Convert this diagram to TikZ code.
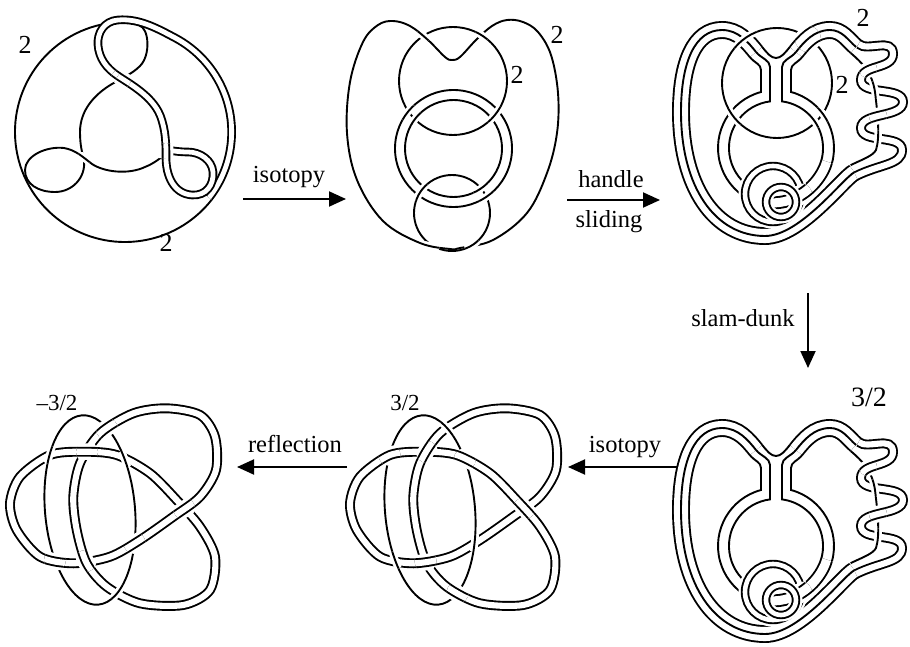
\documentclass[tikz,border=0pt]{standalone}
\usepackage{fontspec}
\setmainfont{Liberation Serif}
\usetikzlibrary{arrows.meta}
\tikzset{
 sl/.style={line width=1.9pt},
 slh/.style={draw=white, line width=7.5pt},
 dbl/.style={double=white, double distance=4.8pt, line width=1.9pt},
 dblh/.style={draw=white, line width=15pt},
 tband/.style={double=white, double distance=6.1pt, line width=1.9pt},
 tbandh/.style={draw=white, line width=16.5pt},
 wband/.style={double=white, double distance=6.1pt, line width=1.9pt},
 wbandh/.style={draw=white, line width=16.5pt},
 tailst/.style={double=white, double distance=9.1pt, line width=1.9pt},
 tailh/.style={draw=white, line width=19.5pt},
 sband/.style={double=white, double distance=4.6pt, line width=1.9pt},
 sbandh/.style={draw=white, line width=13pt},
 triple/.style={line width=17.9pt, postaction={draw=white, line width=14.1pt}, postaction={draw=black, line width=1.9pt}},
 tripleh/.style={draw=white, line width=24.5pt},
 lbl/.style={font=\fontsize{24.5}{29}\selectfont, inner sep=0pt},
 num/.style={font=\fontsize{26}{30}\selectfont, inner sep=0pt},
 numS/.style={font=\fontsize{23}{27}\selectfont, inner sep=0pt},
 numL/.style={font=\fontsize{28}{32}\selectfont, inner sep=0pt},
 arr/.style={line width=1.9pt, -{Triangle[length=17pt,width=15pt]}},
 rotE/.style={rotate around={5:(430,510)}},
 % diagram 1
 Dcirc/.style={insert path={(125,132) ++(258:110) arc[start angle=258,end angle=38,radius=110]}},
 DbA/.style={insert path={(125,132) ++(38:106.65) arc[start angle=38,end angle=-62,radius=106.65] .. controls (160,30) and (140,18) .. (118,20) .. controls (104,21) and (97,33) .. (98,45) .. controls (99,58) and (106,68) .. (118,76)}},
 DbB/.style={insert path={(118,76) .. controls (130,84) and (152,96) .. (160,115) .. controls (166,130) and (166,145) .. (166,158)}},
 DbC/.style={insert path={(166,158) .. controls (166,176) and (174,194) .. (192,195) .. controls (206,196) and (214,185) .. (213,172) .. controls (212,160) and (200,152) .. (188,152) .. controls (180,152) and (174,151) .. (166,150)}},
 DsA/.style={insert path={(139.3,25.5) .. controls (149,28) and (151,55) .. (140,66) .. controls (132,74) and (122,78) .. (112,84) .. controls (95,94) and (80,110) .. (80,132) .. controls (80,145) and (82,152) .. (84,160)}},
 DsB/.style={insert path={(84,160) .. controls (86,178) and (72,192) .. (55,192) .. controls (38,192) and (25,184) .. (25,170) .. controls (25,156) and (46,146) .. (64,148)}},
 DsC/.style={insert path={(64,148) .. controls (76,150) and (84,158) .. (92,164) .. controls (104,172) and (128,175) .. (145,167) .. controls (155,163) and (160,158) .. (166,154)}},
 % diagram 2
 Eheart/.style={insert path={plot[smooth cycle, tension=0.6] coordinates {(450,249) (420,243) (383,221) (357,180) (347,133) (350,82) (363,42) (378,25) (393,21) (410,26) (428,40) (445,57) (452,60) (460,57) (476,40) (492,26) (507,20) (523,22) (538,32) (551,55) (558,93) (557,133) (547,173) (527,213) (493,240) (460,248)}}},
 Eup/.style={insert path={(453,81) circle (54)}},
 Ero/.style={insert path={(453.5,148.5) circle (58.5)}},
 Eri/.style={insert path={(453.5,148.5) circle (48.5)}},
 Elo/.style={insert path={(452,213) circle (38)}},
 % diagrams 3 and 5
 HtL/.style={insert path={(854.2,570.4) .. controls (843.5,575.8) and (800,634) .. (765,634) .. controls (715,634) and (681,585) .. (681,510) .. controls (681,460) and (695,428) .. (722,428) .. controls (738,428) and (748,440) .. (756,450)}},
 HtR/.style={insert path={(796,450) .. controls (804,440) and (814,428) .. (830,428) .. controls (842,428) and (848,438) .. (856,445)}},
 Hw/.style={insert path={(858.65,442) .. controls (867.7,449.9) and (893,435) .. (893,452) .. controls (893,468) and (861,462) .. (861,478) .. controls (861,494) and (903,484) .. (903,500) .. controls (903,516) and (861,510) .. (861,526) .. controls (861,542) and (902,532) .. (902,548) .. controls (902,563) and (880,562) .. (856,574)}},
 Hthin/.style={insert path={(850.7,451) .. controls (862,460.9) and (872,470) .. (875,490) .. controls (878,515) and (880,535) .. (876,548) .. controls (873,554) and (861.3,557.8) .. (850.6,563.2)}},
 HV/.style={insert path={(762.2,445) .. controls (767.2,451.2) and (771,456) .. (776,456) .. controls (781,456) and (784.8,451.2) .. (789.8,445)}},
 HstL/.style={insert path={(756,450) .. controls (761,456.3) and (770,458) .. (770,465) -- (770,499.4) arc[start angle=262.7,end angle=125,radius=47]}},
 HstR/.style={insert path={(796,450) .. controls (791,456.3) and (782,458) .. (782,465) -- (782,499.4) arc[start angle=277.3,end angle=375,radius=47]}},
 HbrL/.style={insert path={(749.75,455) .. controls (754.75,461.25) and (761,462) .. (761,468) -- (761,490) arc[start angle=255,end angle=120,radius=58]}},
 HbrR/.style={insert path={(802.25,455) .. controls (797.25,461.25) and (791,462) .. (791,468) -- (791,490) arc[start angle=285,end angle=375,radius=58]}},
 Htail/.style={insert path={(826.7,559.6) .. controls (823.6,571.2) and (812,590) .. (790,598) .. controls (783,600.5) and (776,601) .. (770,601)}},
 HA/.style={insert path={(773,592) circle (28)}},
 HB/.style={insert path={(781,600) circle (15)}},
 Hcirc/.style={insert path={(777,481) circle (55)}},
}
\newcommand\xo[3]{\begin{scope}\clip (#1) circle (#2);#3\end{scope}}
\newcommand\HeartStruct{%
 \draw[triple,HtL]; \draw[triple,HtR];
 \draw[wband,Hw];
 \draw[sl,Hthin];
 \draw[sl,HV]; \draw[sl,HstL]; \draw[sl,HstR]; \draw[sl,HbrL]; \draw[sl,HbrR];
 \draw[tailst,Htail];
 \draw[sbandh,HA]; \draw[sband,HA];
 \xo{801,592.5}{11}{\draw[tailh,Htail];\draw[tailst,Htail];}
 \draw[sbandh,HB]; \draw[sband,HB];
 \xo{868,467}{9}{\draw[wbandh,Hw];\draw[wband,Hw];}
 \xo{875,488}{9}{\draw[slh,Hthin];\draw[sl,Hthin];}
 \xo{878,514}{9}{\draw[wbandh,Hw];\draw[wband,Hw];}
 \xo{880.5,537}{9}{\draw[slh,Hthin];\draw[sl,Hthin];}
}
\newcommand\DefT{\foreach \p [count=\i from 0] in {{423.3,451.7},{456.7,455},{490,473.3},{516.7,500},{540,526.7},{555,556.7},{550,590},{523.3,605},{480,603.3},{446.7,586.7},{426.7,563.3},{416.7,530},{413.3,496.7},{420,463.3},{440,433.3},{473.3,413.3},{506.7,408.3},{540,415},{555,436.7},{556,470},{540,496.7},{513.3,516.7},{480,540},{450,556.7},{413.3,563.3},{380,556.7},{356.7,530},{350,503.3},{360,476.7},{390,455}} {\coordinate (T\i) at (\p);}}
\newcommand\TrefBase{%
 \draw[sl,rotE] (430,510) ellipse [x radius=45, y radius=95];
 \draw[tband] plot[smooth cycle] coordinates {(T0) (T1) (T2) (T3) (T4) (T5) (T6) (T7) (T8) (T9) (T10) (T11) (T12) (T13) (T14) (T15) (T16) (T17) (T18) (T19) (T20) (T21) (T22) (T23) (T24) (T25) (T26) (T27) (T28) (T29)};
}
\newcommand\Tsub[2]{\begin{scope}\clip (#1) circle (11); \draw[tbandh] plot[smooth] coordinates {#2}; \draw[tband] plot[smooth] coordinates {#2};\end{scope}}
\newcommand\Eov[1]{\begin{scope}\clip (#1) circle (9); \draw[slh,rotE] (430,510) ellipse [x radius=45, y radius=95]; \draw[sl,rotE] (430,510) ellipse [x radius=45, y radius=95];\end{scope}}
\begin{document}
\begin{tikzpicture}[x=1pt,y=-1pt]
\useasboundingbox (0,0) rectangle (910,647);
\fill[white] (0,0) rectangle (910,647);

% ---------- diagram 1 ----------
\draw[sl,Dcirc];
\draw[sl,DsA]; \draw[sl,DsB]; \draw[sl,DsC];
\draw[dbl,DbA]; \draw[dbl,DbB]; \draw[dbl,DbC];
\xo{121,79}{10}{\draw[dblh,DbA];\draw[dblh,DbB];\draw[dbl,DbA];\draw[dbl,DbB];}
\xo{166,152}{9}{\draw[dblh,DbB];\draw[dbl,DbB];}
\xo{84,158.5}{7}{\draw[slh,DsC];\draw[sl,DsC];}
\node[num] (l1a) at (25,45) {2};
\node[num] (l1b) at (166,243) {2};

% ---------- diagram 2 ----------
\draw[sl,Eheart]; \draw[sl,Eup]; \draw[sl,Ero]; \draw[sl,Eri]; \draw[sl,Elo];
\xo{423,36}{7}{\draw[slh,Eheart];\draw[sl,Eheart];}
\xo{482,35}{7}{\draw[slh,Eup];\draw[sl,Eup];}
\xo{411.2,115}{10}{\draw[slh,Ero];\draw[slh,Eri];\draw[sl,Ero];\draw[sl,Eri];}
\xo{494.8,115}{10}{\draw[slh,Eup];\draw[sl,Eup];}
\xo{420.8,192}{10}{\draw[slh,Elo];\draw[sl,Elo];}
\xo{483.2,192}{10}{\draw[slh,Ero];\draw[slh,Eri];\draw[sl,Ero];\draw[sl,Eri];}
\xo{432,245.4}{8}{\draw[slh,Eheart];\draw[sl,Eheart];}
\xo{472,245.2}{8}{\draw[slh,Elo];\draw[sl,Elo];}
\node[num] (l2a) at (557,35) {2};
\node[num] (l2b) at (517,75) {2};

% ---------- diagram 3 ----------
\begin{scope}[shift={(0,-398)}]
 \draw[sl,Hcirc];
 \HeartStruct
 \xo{745,437}{14}{\draw[slh,Hcirc];\draw[sl,Hcirc];}
 \xo{808,437}{13}{\draw[tripleh,HtR];\draw[triple,HtR];}
 \xo{733.5,515.5}{10}{\draw[slh,Hcirc];\draw[sl,Hcirc];}
 \xo{818.5,515.5}{10}{\draw[slh,HstR];\draw[slh,HbrR];\draw[sl,HstR];\draw[sl,HbrR];}
\end{scope}
\node[num] (l3a) at (863,18) {2};
\node[num] (l3b) at (842,85) {2};

% ---------- diagram 5 ----------
\HeartStruct
\node[numL] (l5) at (869,397) {3/2};

% ---------- diagram 4b (3/2) ----------
\begin{scope}
 \DefT
 \TrefBase
 \Tsub{427,452}{(T11) (T12) (T13) (T14) (T15) (T16)}
 \Tsub{524,508.5}{(T1) (T2) (T3) (T4) (T5) (T6)}
 \Tsub{425.5,561}{(T21) (T22) (T23) (T24) (T25) (T26)}
 \Tsub{389.5,455}{(T26) (T27) (T28) (T29) (T0) (T1) (T2)}
 \Tsub{464.7,459.4}{(T29) (T0) (T1) (T2) (T3) (T4)}
 \Tsub{457.7,592.4}{(T6) (T7) (T8) (T9) (T10) (T11)}
 \Eov{447,429}
 \Eov{474.5,543}
 \Eov{395,560}
\end{scope}
\node[numS] (l4b) at (405,403) {3/2};

% ---------- diagram 4a (-3/2) ----------
\begin{scope}[shift={(-340,0)}]
 \DefT
 \TrefBase
 \Tsub{427,452}{(T27) (T28) (T29) (T0) (T1) (T2)}
 \Tsub{524,508.5}{(T18) (T19) (T20) (T21) (T22) (T23)}
 \Tsub{425.5,561}{(T8) (T9) (T10) (T11) (T12) (T13)}
 \Tsub{447,429}{(T12) (T13) (T14) (T15) (T16) (T17)}
 \Tsub{474.5,543}{(T20) (T21) (T22) (T23) (T24) (T25)}
 \Tsub{395,560}{(T22) (T23) (T24) (T25) (T26) (T27)}
 \Eov{389.5,455}
 \Eov{464.7,459.4}
 \Eov{457.7,592.4}
\end{scope}
\node[numS] (l4a) at (57,403) {–3/2};

% ---------- arrows ----------
\coordinate (a1s) at (243,199); \coordinate (a1e) at (346,199);
\coordinate (a2s) at (567,200); \coordinate (a2e) at (660,200);
\coordinate (a3s) at (808,293); \coordinate (a3e) at (808,368);
\coordinate (a4s) at (677,467); \coordinate (a4e) at (568,467);
\coordinate (a5s) at (347,467); \coordinate (a5e) at (237,467);
\draw[arr] (a1s) -- (a1e);
\draw[arr] (a2s) -- (a2e);
\draw[arr] (a3s) -- (a3e);
\draw[arr] (a4s) -- (a4e);
\draw[arr] (a5s) -- (a5e);
\node[lbl] (t1) at (289,177) {isotopy};
\node[lbl] (t2) at (611,179) {handle};
\node[lbl] (t3) at (609,222) {sliding};
\node[lbl] (t4) at (743,318) {slam-dunk};
\node[lbl] (t5) at (625,447) {isotopy};
\node[lbl] (t6) at (295,444) {reflection};
\end{tikzpicture}
\end{document}
